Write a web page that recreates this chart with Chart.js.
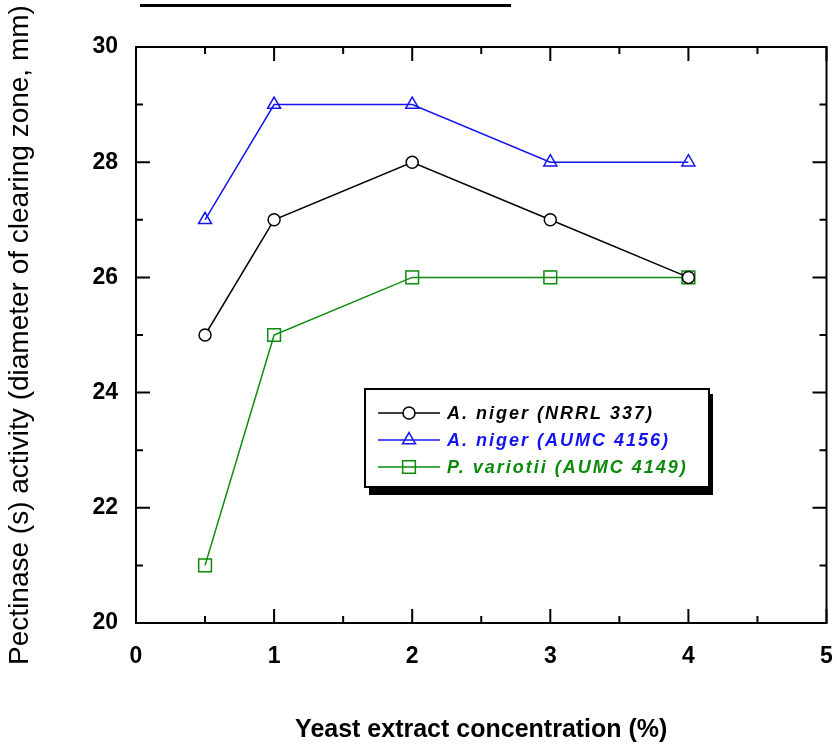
<!DOCTYPE html>
<html>
<head>
<meta charset="utf-8">
<script src="https://cdn.jsdelivr.net/npm/chart.js@4/dist/chart.umd.min.js"></script>
<style>
  html, body { margin: 0; padding: 0; background: #fff; }
  #wrap { position: relative; width: 837px; height: 748px; }
  #topline { position: absolute; left: 140px; top: 4px; width: 371px; height: 3px; background: #000; }
  canvas { position: absolute; left: 0; top: 0; }
</style>
</head>
<body>
<div id="wrap">
  <canvas id="c" width="837" height="748"></canvas>
  <div id="topline"></div>
</div>
<script>
// ---- data ----
const concentrations = [0.5, 1, 2, 3, 4];
const nigerNRRL337 = [25, 27, 28, 27, 26];
const nigerAUMC4156 = [27, 29, 29, 28, 28];
const variotiiAUMC4149 = [21, 25, 26, 26, 26];
const seriesLabels = ['A. niger (NRRL 337)', 'A. niger (AUMC 4156)', 'P. variotii (AUMC 4149)'];
const xTicks = [0, 1, 2, 3, 4, 5];
const xMinorTicks = [0.5, 1.5, 2.5, 3.5, 4.5];
const yTicks = [20, 22, 24, 26, 28, 30];
const yMinorTicks = [21, 23, 25, 27, 29];

const FONT = '"Liberation Sans", Arial, Helvetica, sans-serif';
const BLUE = '#1414f0';
const GREEN = '#0b8a0b';

function pts(ys) { return concentrations.map((x, i) => ({x: x, y: ys[i]})); }

const frameAndTicks = {
  id: 'frameAndTicks',
  afterDatasetsDraw(chart) {
    const {ctx, chartArea: a, scales: {x, y}} = chart;
    ctx.save();
    ctx.strokeStyle = '#000';
    ctx.lineWidth = 2;
    ctx.lineCap = 'butt';
    ctx.strokeRect(a.left, a.top, a.right - a.left, a.bottom - a.top);
    ctx.beginPath();
    const xt = (v, len) => {
      const px = x.getPixelForValue(v);
      ctx.moveTo(px, a.bottom); ctx.lineTo(px, a.bottom - len);
      ctx.moveTo(px, a.top); ctx.lineTo(px, a.top + len);
    };
    const yt = (v, len) => {
      const py = y.getPixelForValue(v);
      ctx.moveTo(a.left, py); ctx.lineTo(a.left + len, py);
      ctx.moveTo(a.right, py); ctx.lineTo(a.right - len, py);
    };
    xTicks.forEach(v => xt(v, 14));
    xMinorTicks.forEach(v => xt(v, 7));
    yTicks.forEach(v => yt(v, 14));
    yMinorTicks.forEach(v => yt(v, 7));
    ctx.stroke();
    ctx.restore();
  }
};

const boxLegend = {
  id: 'boxLegend',
  afterDraw(chart) {
    const ctx = chart.ctx;
    const bx = 365, by = 389, bw = 344, bh = 98;
    ctx.save();
    ctx.fillStyle = '#000';
    ctx.fillRect(bx + 4, by + 5, bw, bh + 3);
    ctx.fillStyle = '#fff';
    ctx.fillRect(bx, by, bw, bh);
    ctx.strokeStyle = '#000';
    ctx.lineWidth = 2;
    ctx.strokeRect(bx, by, bw, bh);
    const rowY = [413, 440, 467];
    chart.data.datasets.forEach((ds, i) => {
      const yy = rowY[i];
      ctx.strokeStyle = ds.borderColor;
      ctx.lineWidth = 1.5;
      ctx.beginPath();
      ctx.moveTo(378, yy); ctx.lineTo(440, yy);
      ctx.stroke();
      ctx.fillStyle = ds.pointBackgroundColor;
      ctx.strokeStyle = ds.borderColor;
      ctx.lineWidth = ds.pointBorderWidth;
      Chart.helpers.drawPoint(ctx, {pointStyle: ds.pointStyle, radius: ds.pointRadius, borderWidth: ds.pointBorderWidth, rotation: 0}, 409, yy);
      ctx.fillStyle = ds.borderColor;
      ctx.font = 'italic bold 18px ' + FONT;
      ctx.letterSpacing = '2px';
      ctx.textBaseline = 'middle';
      ctx.textAlign = 'left';
      ctx.fillText(ds.label, 447, yy + 1);
    });
    ctx.restore();
  }
};

new Chart(document.getElementById('c'), {
  type: 'scatter',
  data: {
    datasets: [
      { label: seriesLabels[0], data: pts(nigerNRRL337), showLine: true, borderColor: '#000', borderWidth: 1.5,
        pointStyle: 'circle', pointRadius: 6, pointBorderWidth: 1.5, pointBackgroundColor: '#fff', pointBorderColor: '#000' },
      { label: seriesLabels[1], data: pts(nigerAUMC4156), showLine: true, borderColor: BLUE, borderWidth: 1.5,
        pointStyle: 'triangle', pointRadius: 7.5, pointBorderWidth: 1.5, pointBackgroundColor: 'rgba(0,0,0,0)', pointBorderColor: BLUE },
      { label: seriesLabels[2], data: pts(variotiiAUMC4149), showLine: true, borderColor: GREEN, borderWidth: 1.5,
        pointStyle: 'rect', pointRadius: 9, pointBorderWidth: 1.5, pointBackgroundColor: 'rgba(0,0,0,0)', pointBorderColor: GREEN }
    ]
  },
  options: {
    responsive: false,
    animation: false,
    devicePixelRatio: 1,
    layout: { padding: { top: 47, right: 9, left: 0, bottom: 0 } },
    plugins: { legend: { display: false }, tooltip: { enabled: false } },
    scales: {
      x: {
        type: 'linear', min: 0, max: 5,
        afterFit(s) { s.height = 125; s.paddingLeft = 0; s.paddingRight = 0; },
        afterBuildTicks(s) { s.ticks = xTicks.map(v => ({value: v})); },
        grid: { display: false, drawTicks: false },
        border: { display: false },
        ticks: { color: '#000', padding: 20, font: { family: FONT, size: 23, weight: 'bold' } },
        title: { display: true, text: 'Yeast extract concentration (%)', color: '#000',
                 padding: { top: 0, bottom: 3 }, font: { family: FONT, size: 25, weight: 'bold' } }
      },
      y: {
        type: 'linear', min: 20, max: 30,
        afterFit(s) { s.width = 136; s.paddingTop = 0; s.paddingBottom = 0; },
        afterBuildTicks(s) { s.ticks = yTicks.map(v => ({value: v})); },
        grid: { display: false, drawTicks: false },
        border: { display: false },
        ticks: { color: '#000', padding: 18, font: { family: FONT, size: 23, weight: 'bold' } },
        title: { display: true, text: 'Pectinase (s) activity (diameter of clearing zone, mm)', color: '#000',
                 padding: { top: 3, bottom: 0 }, font: { family: FONT, size: 28, weight: 'normal' } }
      }
    }
  },
  plugins: [frameAndTicks, boxLegend]
});
</script>
</body>
</html>
